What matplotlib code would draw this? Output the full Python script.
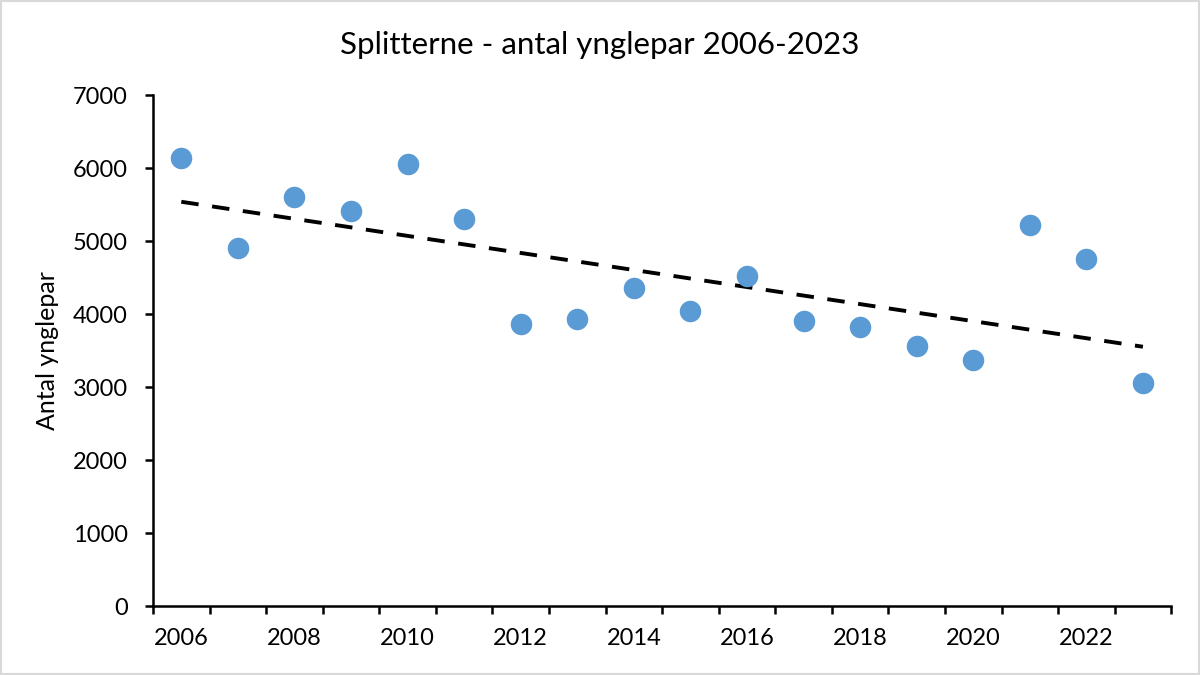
import numpy as np
import matplotlib
matplotlib.use("Agg")
import matplotlib.pyplot as plt
from matplotlib.patches import Rectangle

years = [2006, 2007, 2008, 2009, 2010, 2011, 2012, 2013, 2014, 2015,
         2016, 2017, 2018, 2019, 2020, 2021, 2022, 2023]
pairs = [6140, 4900, 5600, 5410, 6055, 5310, 3865, 3935, 4360, 4045,
         4520, 3905, 3825, 3565, 3370, 5215, 4755, 3055]
label_years = [2006, 2008, 2010, 2012, 2014, 2016, 2018, 2020, 2022]
y_ticks = [0, 1000, 2000, 3000, 4000, 5000, 6000, 7000]

plt.rcParams['font.family'] = ['Lato', 'DejaVu Sans']

fig = plt.figure(figsize=(12, 6.75), dpi=100)
ax = fig.add_axes([0.1275, 0.1022, 0.976 - 0.1275, 0.859 - 0.1022])

x = np.array(years, dtype=float)
y = np.array(pairs, dtype=float)
ax.scatter(x, y, s=240, color='#5B9BD5', zorder=3, linewidths=0)

coef = np.polyfit(x, y, 1)
xt = np.array([years[0], years[-1]], dtype=float)
ax.plot(xt, np.polyval(coef, xt), color='black', lw=2.8, dashes=(4.5, 3.5), zorder=2)

ax.set_xlim(2005.5, 2023.5)
ax.set_ylim(0, 7000)
ax.set_xticks(np.arange(2005.5, 2024.0, 1.0))
ax.set_xticklabels([])
ax.set_xticks(label_years, minor=True)
ax.set_xticklabels([str(v) for v in label_years], minor=True, fontsize=17)
ax.tick_params(axis='x', which='major', length=6, width=1.8, direction='out')
ax.tick_params(axis='x', which='minor', length=0, pad=16)
ax.set_yticks(y_ticks)
ax.set_yticklabels([str(v) for v in y_ticks], fontsize=17)
ax.tick_params(axis='y', length=6, width=1.8, direction='out', pad=12)

for s in ['top', 'right']:
    ax.spines[s].set_visible(False)
for s in ['left', 'bottom']:
    ax.spines[s].set_linewidth(1.8)
    ax.spines[s].set_color('black')

ax.set_ylabel('Antal ynglepar', fontsize=18, labelpad=10)
fig.text(0.5, 1 - 45 / 675, 'Splitterne - antal ynglepar 2006-2023', ha='center', va='center', fontsize=22.5)

fig.patches.append(Rectangle((0, 0), 1, 1, transform=fig.transFigure, fill=False,
                             edgecolor='#d9d9d9', lw=3))

fig.savefig('out.png', dpi=100)
